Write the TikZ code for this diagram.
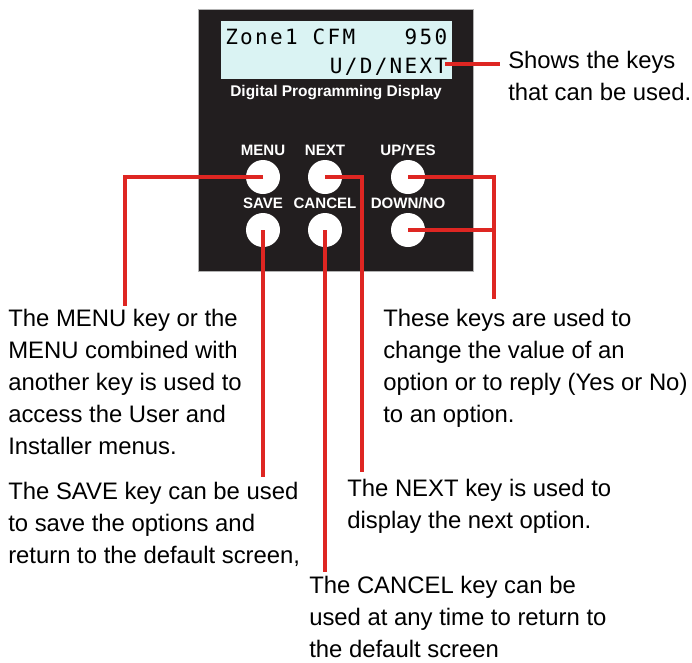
\documentclass[tikz,border=0pt]{standalone}
\usepackage{fontspec}
\setmainfont{Liberation Sans}
\newfontfamily\lcdfont[LetterSpace=11]{DejaVu Sans Mono}
\usetikzlibrary{positioning}
\definecolor{panelbg}{RGB}{34,30,31}
\definecolor{lcdbg}{RGB}{218,243,243}
\definecolor{callout}{RGB}{222,38,34}

\begin{document}
\begin{tikzpicture}[x=0.75pt,y=-0.75pt,
    key/.style={circle,fill=white,minimum size=25.5pt,inner sep=0pt},
    keylabel/.style={text=white,text depth=0pt,font=\fontsize{11.3}{13}\selectfont\bfseries},
    lead/.style={draw=callout,line width=2.3pt},
    note/.style={anchor=base west,align=left,inner sep=0pt,font=\fontsize{17.9}{24}\selectfont}]
    \useasboundingbox (0,0) rectangle (692,662);
    \filldraw[fill=panelbg,draw=gray!60,line width=0.4pt] (198,9) rectangle (473,271);
    \node (screen) [fill=lcdbg,minimum width=173.25pt,minimum height=43.5pt,inner sep=0pt] at (336.5,50) {};
    % multi-line nodes: base is the last line
    \node (lcdtext) [anchor=base west,align=left,inner sep=0pt,font=\lcdfont\fontsize{15.75}{21.75}\selectfont] at (225,73)
        {\makebox[166.5pt][l]{Zone1 CFM\hfill950}\\\makebox[166.5pt][r]{U/D/NEXT}};
    \node (title) [keylabel,anchor=base,inner sep=0pt,font=\fontsize{11.6}{13}\selectfont\bfseries] at (336,96) {Digital Programming Display};
    \node (menu) [key,label={[keylabel]above:MENU}] at (263,177) {};
    \node (next) [key,label={[keylabel]above:NEXT}] at (325,177) {};
    \node (up) [key,label={[keylabel]above:UP/YES}] at (408,177) {};
    \node (save) [key,label={[keylabel]above:SAVE}] at (263,230) {};
    \node (cancel) [key,label={[keylabel]above:CANCEL}] at (325,230) {};
    \node (down) [key,label={[keylabel]above:DOWN/NO}] at (408,230) {};
    \coordinate (lcdtip) at (445,64);
    \coordinate (lcdend) at (500,64);
    \coordinate (menuend) at (125,306);
    \coordinate (nextend) at (362,472);
    \coordinate (updnend) at (494,299);
    \coordinate (saveend) at (263,477);
    \coordinate (cancelend) at (325,572);
    \draw[lead] (lcdtip) -- (lcdend);
    \draw[lead] (menu.center) -| (menuend);
    \draw[lead] (next.center) -| (nextend);
    \draw[lead] (up.center) -| (updnend);
    \draw[lead] (down.center) -- (down.center -| updnend);
    \draw[lead] (save.center) -- (saveend);
    \draw[lead] (cancel.center) -- (cancelend);
    \node (lcdnote) [note] at (508,100) {Shows the keys\\that can be used.};
    \node (menunote) [note] at (8,454) {The MENU key or the\\MENU combined with\\another key is used to\\access the User and\\Installer menus.};
    \node (updnnote) [note] at (383,422) {These keys are used to\\change the value of an\\option or to reply (Yes or No)\\to an option.};
    \node (savenote) [note] at (8,563) {The SAVE key can be used\\to save the options and\\return to the default screen,};
    \node (nextnote) [note] at (347,528) {The NEXT key is used to\\display the next option.};
    \node (cancelnote) [note] at (309,657) {The CANCEL key can be\\used at any time to return to\\the default screen};
\end{tikzpicture}
\end{document}
